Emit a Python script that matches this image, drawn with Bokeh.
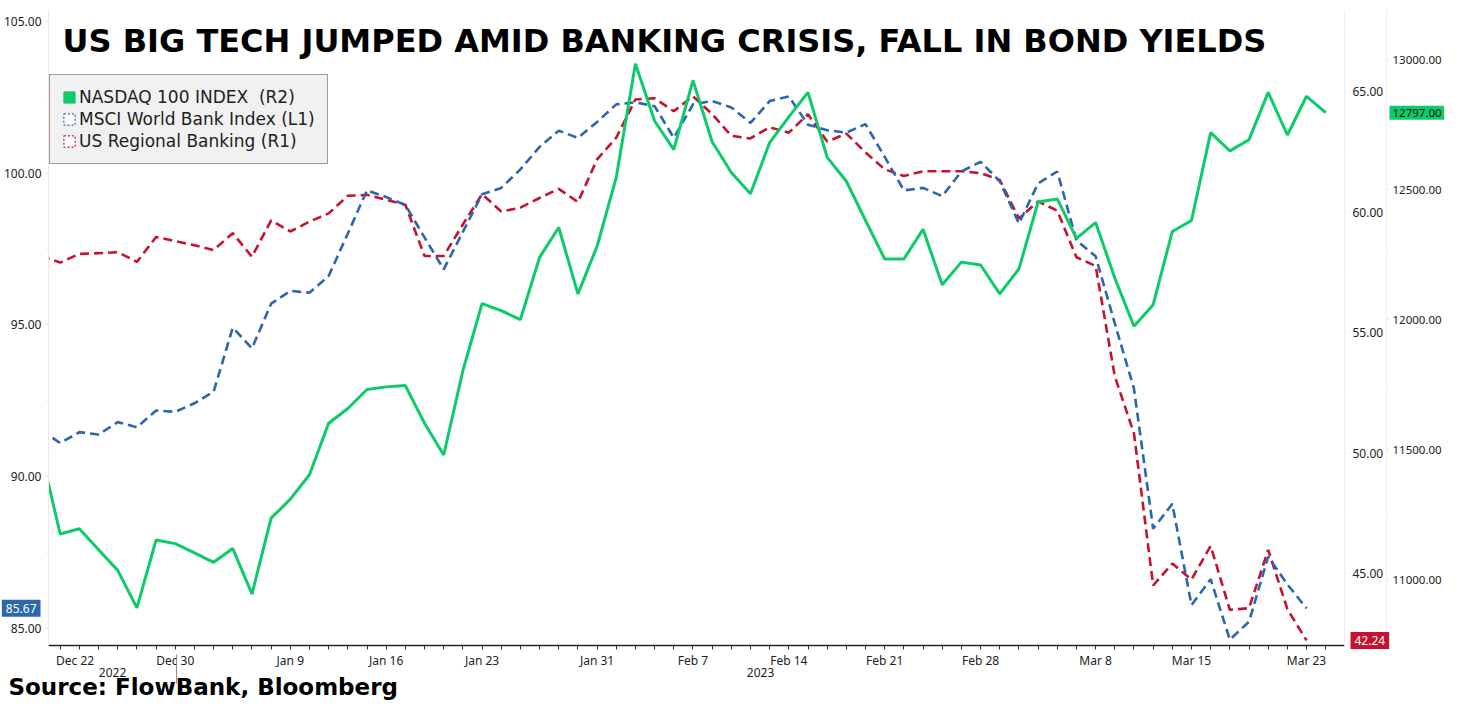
from bokeh.plotting import figure
from bokeh.models import (Range1d, LinearAxis, FixedTicker, NumeralTickFormatter,
                          Legend, LegendItem, Label, ColumnDataSource, Text)
from bokeh.core.properties import value
from bokeh.embed import file_html
from bokeh.resources import INLINE

# ---------------- data ----------------
days = [
    "2022-12-21", "2022-12-22", "2022-12-23", "2022-12-26", "2022-12-27", "2022-12-28",
    "2022-12-29", "2022-12-30",
    "2023-01-02", "2023-01-03", "2023-01-04", "2023-01-05", "2023-01-06", "2023-01-09",
    "2023-01-10", "2023-01-11", "2023-01-12", "2023-01-13", "2023-01-16", "2023-01-17",
    "2023-01-18", "2023-01-19", "2023-01-20", "2023-01-23", "2023-01-24", "2023-01-25",
    "2023-01-26", "2023-01-27", "2023-01-30", "2023-01-31",
    "2023-02-01", "2023-02-02", "2023-02-03", "2023-02-06", "2023-02-07", "2023-02-08",
    "2023-02-09", "2023-02-10", "2023-02-13", "2023-02-14", "2023-02-15", "2023-02-16",
    "2023-02-17", "2023-02-20", "2023-02-21", "2023-02-22", "2023-02-23", "2023-02-24",
    "2023-02-27", "2023-02-28",
    "2023-03-01", "2023-03-02", "2023-03-03", "2023-03-06", "2023-03-07", "2023-03-08",
    "2023-03-09", "2023-03-10", "2023-03-13", "2023-03-14", "2023-03-15", "2023-03-16",
    "2023-03-17", "2023-03-20", "2023-03-21", "2023-03-22", "2023-03-23", "2023-03-24",
]

nasdaq_100 = [
    11490, 11176, 11196, 11115, 11036, 10892, 11153, 11139, 11103, 11067,
    11120, 10945, 11237, 11310, 11404, 11602, 11659, 11732, 11742, 11747,
    11602, 11480, 11804, 12062, 12035, 12001, 12240, 12355, 12100, 12283,
    12548, 12985, 12765, 12655, 12921, 12685, 12567, 12485, 12682, 12781,
    12875, 12625, 12533, 12382, 12234, 12234, 12348, 12135, 12222, 12211,
    12100, 12196, 12453, 12465, 12313, 12374, 12161, 11975, 12058, 12340,
    12382, 12720, 12650, 12693, 12875, 12711, 12860, 12797,
]

msci_world_bank = [
    91.54, 91.11, 91.47, 91.39, 91.80, 91.63, 92.18, 92.14, 92.42, 92.80,
    94.91, 94.23, 95.70, 96.12, 96.06, 96.61, 98.01, 99.43, 99.21, 98.95,
    97.88, 96.83, 98.06, 99.30, 99.51, 100.12, 100.86, 101.39, 101.16, 101.68,
    102.26, 102.33, 102.20, 101.16, 102.26, 102.37, 102.16, 101.65, 102.37, 102.52,
    101.59, 101.41, 101.33, 101.61, 100.53, 99.43, 99.51, 99.24, 100.05, 100.37,
    99.73, 98.34, 99.66, 100.05, 97.78, 97.26, 95.05, 92.90, 88.29, 89.11,
    85.78, 86.63, 84.64, 85.23, 87.37, 86.46, 85.67,
]

us_regional_banking = [
    58.19, 57.92, 58.28, 58.31, 58.35, 57.95, 58.98, 58.81, 58.64, 58.44,
    59.14, 58.16, 59.67, 59.21, 59.62, 59.96, 60.69, 60.73, 60.53, 60.32,
    58.19, 58.19, 59.50, 60.76, 60.04, 60.20, 60.60, 60.98, 60.43, 62.20,
    63.10, 64.69, 64.74, 64.20, 64.82, 64.08, 63.18, 63.07, 63.54, 63.31,
    64.08, 62.94, 63.27, 62.49, 61.79, 61.51, 61.71, 61.71, 61.71, 61.63,
    61.35, 59.75, 60.46, 60.07, 58.14, 57.78, 53.20, 50.83, 44.52, 45.43,
    44.77, 46.16, 43.51, 43.58, 46.00, 43.54, 42.24,
]

date_tick_labels = {
    "2022-12-22": "Dec 22", "2022-12-30": "Dec 30", "2023-01-09": "Jan 9",
    "2023-01-16": "Jan 16", "2023-01-23": "Jan 23", "2023-01-31": "Jan 31",
    "2023-02-07": "Feb 7", "2023-02-14": "Feb 14", "2023-02-21": "Feb 21",
    "2023-02-28": "Feb 28", "2023-03-08": "Mar 8", "2023-03-15": "Mar 15",
    "2023-03-23": "Mar 23",
}
year_labels = ["2022", "2023"]
last_day_2022 = "2022-12-30"
l1_ticks = [85, 90, 95, 100, 105]
r1_ticks = [45, 50, 55, 60, 65]
r2_ticks = [11000, 11500, 12000, 12500, 13000]

title_text = "US BIG TECH JUMPED AMID BANKING CRISIS, FALL IN BOND YIELDS"
source_text = "Source: FlowBank, Bloomberg"
series_names = ["NASDAQ 100 INDEX  (R2)", "MSCI World Bank Index (L1)", "US Regional Banking (R1)"]

# ---------------- styles / layout ----------------
GREEN = "#0dcb68"
BLUE = "#2a67ad"
RED = "#c5122f"
TICK_FONT = "Noto Sans"
DASH = "9 5"

X0, X1 = 0.389, 67.98
Y0, Y1 = 84.447, 105.35
FRAME_TOP, FRAME_BOTTOM = 10, 645
L1_PX = (FRAME_BOTTOM - FRAME_TOP) / (Y1 - Y0)   # pixels per L1 unit

idx = list(range(len(days)))
n_bank = len(msci_world_bank)

p = figure(width=1444, height=700, output_backend="svg", toolbar_location=None,
           x_range=Range1d(X0, X1), y_range=Range1d(Y0, Y1),
           min_border_left=48, min_border_right=0, min_border_top=FRAME_TOP,
           min_border_bottom=700 - FRAME_BOTTOM,
           background_fill_color="white", border_fill_color="white")
p.extra_y_ranges = {"r1": Range1d(42.03, 68.38), "r2": Range1d(10747, 13190)}
p.outline_line_color = None
p.xgrid.visible = False
p.ygrid.visible = False

# x axis (trading-day index)
tick_pos = []
overrides = {}
for d, lab in date_tick_labels.items():
    pos = float(days.index(d))
    if lab == "Dec 22":
        pos += 0.78  # label nudged right to stay clear of the left edge
    tick_pos.append(pos)
    overrides[pos] = lab
xa = p.xaxis[0]
xa.ticker = FixedTicker(ticks=tick_pos, minor_ticks=list(range(0, 69)))
xa.major_label_overrides = overrides
xa.axis_line_color = "#222222"
xa.axis_line_width = 1.5
xa.major_tick_line_color = None
xa.major_tick_out = 0
xa.major_tick_in = 0
xa.minor_tick_line_color = "#333333"
xa.minor_tick_out = 4
xa.minor_tick_in = 0
xa.major_label_standoff = 2
xa.major_label_text_font = TICK_FONT
xa.major_label_text_font_size = "12px"
xa.major_label_text_color = "#222222"

def style_y(ax, ticks, step, standoff, line_col, tick_col, size="12px"):
    ax.ticker = FixedTicker(ticks=ticks,
                            minor_ticks=[ticks[0] - step / 2 + k * step / 2 for k in range(len(ticks) * 2 + 1)])
    ax.formatter = NumeralTickFormatter(format="0.00")
    ax.axis_line_color = line_col
    ax.major_tick_line_color = tick_col
    ax.major_tick_out = 3
    ax.major_tick_in = 0
    ax.minor_tick_line_color = line_col
    ax.minor_tick_out = 2
    ax.minor_tick_in = 0
    ax.major_label_standoff = standoff
    ax.major_label_text_font = TICK_FONT
    ax.major_label_text_font_size = size
    ax.major_label_text_color = "#222222"

style_y(p.yaxis[0], l1_ticks, 5, 4, "#f8e2e2", "#f2caca")
ax_r1 = LinearAxis(y_range_name="r1")
style_y(ax_r1, r1_ticks, 5, 5, "#eeeef6", "#e4e4f0")
p.add_layout(ax_r1, "right")
ax_r2 = LinearAxis(y_range_name="r2")
style_y(ax_r2, r2_ticks, 500, 3, "#eeeef6", "#e4e4f0", size="11.5px")
p.add_layout(ax_r2, "right")

# lines
bank_src = ColumnDataSource(dict(x=idx[:n_bank], msci=msci_world_bank, reg=us_regional_banking))
ndx_src = ColumnDataSource(dict(x=idx, ndx=nasdaq_100))
p.line("x", "reg", source=bank_src, y_range_name="r1", line_color=RED, line_width=2.6, line_dash=DASH)
p.line("x", "msci", source=bank_src, line_color=BLUE, line_width=2.6, line_dash=DASH)
p.line("x", "ndx", source=ndx_src, y_range_name="r2", line_color=GREEN, line_width=3)

# legend with square swatches (proxy quads placed outside the visible frame)
proxy = dict(left=[X0 - 3], right=[X0 - 2], top=[Y0 - 5], bottom=[Y0 - 6])
sq_g = p.quad(source=ColumnDataSource(proxy), left="left", right="right", top="top", bottom="bottom",
              fill_color=GREEN, line_color=GREEN)
sq_b = p.quad(source=ColumnDataSource(proxy), left="left", right="right", top="top", bottom="bottom",
              fill_color="white", line_color=BLUE, line_dash="2 2", line_width=1.2)
sq_r = p.quad(source=ColumnDataSource(proxy), left="left", right="right", top="top", bottom="bottom",
              fill_color="white", line_color=RED, line_dash="2 2", line_width=1.2)
legend = Legend(items=[LegendItem(label=series_names[0], renderers=[sq_g]),
                       LegendItem(label=series_names[1], renderers=[sq_b]),
                       LegendItem(label=series_names[2], renderers=[sq_r])],
                location=(1, 481), orientation="vertical",
                label_text_font="DejaVu Sans", label_text_font_size="17px", label_text_color="#222222",
                glyph_width=14, glyph_height=14, label_height=20, label_standoff=3, spacing=2,
                padding=12, margin=0,
                border_line_color="#444444", border_line_width=1.2,
                background_fill_color="#f1f1f1", background_fill_alpha=1.0)
p.add_layout(legend)

# title
p.add_layout(Label(x=14, y=605, x_units="screen", y_units="screen", text=title_text,
                   text_font="DejaVu Sans", text_font_style="bold", text_font_size="32px",
                   text_color="#000000", text_baseline="alphabetic"))

# texts outside the frame: unclipped overlay glyphs
tprops = set(Text.properties())

def box_kw(fill, pad):
    kw = {}
    if "background_fill_color" in tprops:
        kw["background_fill_color"] = fill
    if "padding" in tprops:
        kw["padding"] = pad
    return kw

# year labels under the date axis, with the year separator
sep = days.index(last_day_2022) + 0.07
ya_pos = [(X0 + sep) / 2, (sep + X1) / 2]
p.text(x=ya_pos, y=[Y0, Y0], text=year_labels, y_offset=27,
       text_font=value(TICK_FONT), text_font_size="12px", text_color="#222222",
       text_align="center", text_baseline="middle", level="overlay")
p.segment(x0=[sep], x1=[sep], y0=[Y0 - 9 / L1_PX], y1=[Y0 - 38 / L1_PX],
          line_color="#8a8a8a", line_width=1, level="overlay")

# source
p.text(x=[X0], y=[Y0], text=[source_text], x_offset=-40, y_offset=41,
       text_font=value("DejaVu Sans"), text_font_style="bold", text_font_size="23px",
       text_color="#000000", text_baseline="alphabetic", text_align="left", level="overlay")

# last-value tags
p.text(x=[X0], y=[msci_world_bank[-1]], text=[f"{msci_world_bank[-1]:.2f}"], x_offset=-8,
       text_font=value(TICK_FONT), text_font_size="12px", text_color="white",
       text_align="right", text_baseline="middle", level="overlay", **box_kw(BLUE, 4))
p.text(x=[X1], y=[us_regional_banking[-1]], y_range_name="r1", text=[f"{us_regional_banking[-1]:.2f}"],
       x_offset=6, text_font=value(TICK_FONT), text_font_size="12px", text_color="white",
       text_align="left", text_baseline="middle", level="overlay", **box_kw(RED, 4))
p.text(x=[X1], y=[nasdaq_100[-1]], y_range_name="r2", text=[f"{nasdaq_100[-1]:.2f}"],
       x_offset=45, text_font=value(TICK_FONT), text_font_size="11.5px", text_color="#111111",
       text_align="left", text_baseline="middle", level="overlay", **box_kw(GREEN, 3))

open("out.html", "w").write(file_html(p, INLINE))
